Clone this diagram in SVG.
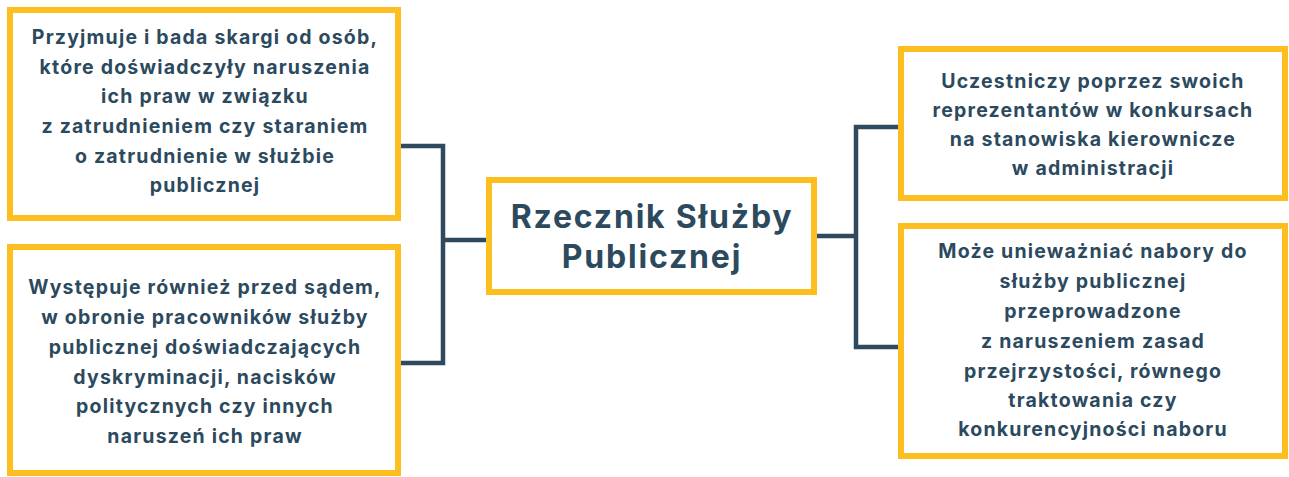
<svg xmlns="http://www.w3.org/2000/svg" width="1289" height="477" viewBox="0 0 1289 477">
<style>
.box{fill:#ffffff;stroke:#FDBE1F;stroke-width:6}
.t{font-family:Inter,"Open Sans","DejaVu Sans",sans-serif;font-weight:700;font-size:19.5px;fill:#2C4A5E;text-anchor:middle;letter-spacing:1.2px}
.big{font-size:32px;letter-spacing:1.8px}
.con{fill:none;stroke:#2F4A5E;stroke-width:4.5}
</style>
<rect width="1289" height="477" fill="#ffffff"/>
<g id="connectors">
<path class="con" d="M401 146 H443 V363 H401"/>
<path class="con" d="M443 240 H486"/>
<path class="con" d="M817 236 H856"/>
<path class="con" d="M898 127 H856 V347 H898"/>
</g>
<g id="node-skargi">
<rect class="box" x="10" y="10" width="388" height="208"/>
<text class="t" x="205" y="44">Przyjmuje i bada skargi od osób,</text>
<text class="t" x="205" y="74">które doświadczyły naruszenia</text>
<text class="t" x="205" y="103">ich praw w związku</text>
<text class="t" x="205" y="133">z zatrudnieniem czy staraniem</text>
<text class="t" x="205" y="163">o zatrudnienie w służbie</text>
<text class="t" x="205" y="192">publicznej</text>
</g>
<g id="node-sad">
<rect class="box" x="10" y="247" width="388" height="226"/>
<text class="t" x="205" y="294">Występuje również przed sądem,</text>
<text class="t" x="205" y="324">w obronie pracowników służby</text>
<text class="t" x="205" y="354">publicznej doświadczających</text>
<text class="t" x="205" y="384">dyskryminacji, nacisków</text>
<text class="t" x="205" y="413">politycznych czy innych</text>
<text class="t" x="205" y="443">naruszeń ich praw</text>
</g>
<g id="node-rzecznik">
<rect class="box" x="489" y="180" width="325" height="112"/>
<text class="t big" x="652" y="228">Rzecznik Służby</text>
<text class="t big" x="652" y="268">Publicznej</text>
</g>
<g id="node-konkursy">
<rect class="box" x="901" y="49" width="384" height="149"/>
<text class="t" x="1093" y="88">Uczestniczy poprzez swoich</text>
<text class="t" x="1093" y="117">reprezentantów w konkursach</text>
<text class="t" x="1093" y="146">na stanowiska kierownicze</text>
<text class="t" x="1093" y="175">w administracji</text>
</g>
<g id="node-nabory">
<rect class="box" x="901" y="226" width="384" height="230"/>
<text class="t" x="1093" y="258">Może unieważniać nabory do</text>
<text class="t" x="1093" y="288">służby publicznej</text>
<text class="t" x="1093" y="318">przeprowadzone</text>
<text class="t" x="1093" y="348">z naruszeniem zasad</text>
<text class="t" x="1093" y="378">przejrzystości, równego</text>
<text class="t" x="1093" y="407">traktowania czy</text>
<text class="t" x="1093" y="436">konkurencyjności naboru</text>
</g>
</svg>
